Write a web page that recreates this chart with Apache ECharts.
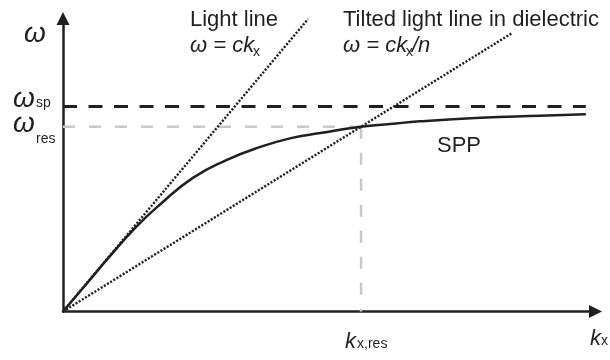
<!DOCTYPE html>
<html><head><meta charset="utf-8">
<script src="https://cdn.jsdelivr.net/npm/echarts@6/dist/echarts.min.js"></script>
<style>html,body{margin:0;padding:0;background:#fff}#c{width:610px;height:360px}</style>
</head><body><div id="c"></div>
<script>
// axis extents (arbitrary units)
const kAxisMax = 9.88;
const wAxisMax = 9.80;
// SPP dispersion curve
const sppK = [0, 0.41, 0.87, 1.34, 1.80, 2.41, 3.04, 3.65, 4.21, 4.77, 5.53, 6.07, 6.62, 7.74, 8.85, 9.70];
const sppW = [0, 0.87, 1.85, 2.80, 3.58, 4.47, 5.07, 5.50, 5.79, 5.97, 6.18, 6.27, 6.36, 6.48, 6.55, 6.60];
// light line and tilted light line (end points)
const lightK = [0, 4.545];
const lightW = [0, 9.78];
const tiltK = [0, 8.33];
const tiltW = [0, 9.31];
// characteristic values
const omegaSp = 6.86;
const omegaRes = 6.18;
const kRes = 5.53;
const kSpEnd = 9.70;

const INK = '#231f20';
const GRAY = '#c8c8c8';
const FONT = '"Liberation Sans", Arial, Helvetica, sans-serif';
const zip = (a, b) => a.map((v, i) => [v, b[i]]);

const chart = echarts.init(document.getElementById('c'), null, {renderer: 'canvas'});
chart.setOption({
  animation: false,
  backgroundColor: '#fff',
  grid: {left: 63, right: 14.5, top: 18.5, bottom: 48.5},
  xAxis: {
    type: 'value', min: 0, max: kAxisMax,
    axisLine: {show: true, lineStyle: {color: INK, width: 2.5}, symbol: ['none', 'triangle'], symbolSize: [13, 13]},
    axisTick: {show: false}, axisLabel: {show: false}, splitLine: {show: false}
  },
  yAxis: {
    type: 'value', min: 0, max: wAxisMax,
    axisLine: {show: true, lineStyle: {color: INK, width: 2.5}, symbol: ['none', 'triangle'], symbolSize: [13, 13]},
    axisTick: {show: false}, axisLabel: {show: false}, splitLine: {show: false}
  },
  series: [
    {type: 'line', data: [[0, omegaRes], [kRes, omegaRes]], symbol: 'none', silent: true,
     lineStyle: {color: GRAY, width: 2.5, type: [12, 14]}, z: 1},
    {type: 'line', data: [[kRes, omegaRes], [kRes, 0]], symbol: 'none', silent: true,
     lineStyle: {color: GRAY, width: 2.5, type: [12, 14]}, z: 1},
    {type: 'line', data: [[0, omegaSp], [kSpEnd, omegaSp]], symbol: 'none', silent: true,
     lineStyle: {color: INK, width: 3, type: [14, 11.5]}, z: 2},
    {type: 'line', data: zip(sppK, sppW), symbol: 'none', smooth: 0.5, silent: true,
     lineStyle: {color: INK, width: 2.5}, z: 3},
    {type: 'line', data: zip(lightK, lightW), symbol: 'none', silent: true,
     lineStyle: {color: INK, width: 2.4, type: [2.1, 1.6]}, z: 4},
    {type: 'line', data: zip(tiltK, tiltW), symbol: 'none', silent: true,
     lineStyle: {color: INK, width: 2.4, type: [2.1, 1.6]}, z: 4}
  ]
});

function txt(text, x, y, size, italic) {
  const font = (italic ? 'italic ' : '') + size + 'px ' + FONT;
  return {type: 'text', x: x, y: y, silent: true, z: 10,
    style: {text: text, fill: INK, font: font, fontSize: size, fontFamily: FONT, fontStyle: italic ? 'italic' : 'normal',
      align: 'left', verticalAlign: 'middle', textAlign: 'left', textVerticalAlign: 'middle'}};
}
const ySp = chart.convertToPixel({gridIndex: 0}, [0, omegaSp])[1];
const yRes = chart.convertToPixel({gridIndex: 0}, [0, omegaRes])[1];
const xRes = chart.convertToPixel({gridIndex: 0}, [kRes, 0])[0];
const yAx = chart.convertToPixel({gridIndex: 0}, [0, 0])[1];

chart.setOption({
  graphic: [
    txt('ω', 24, 34.5, 28, true),
    txt('ω', 13, ySp - 7.5, 28, true),
    txt('sp', 36, ySp - 3, 14, false),
    txt('ω', 13, yRes - 3, 28, true),
    txt('res', 36, yRes + 12, 14, false),
    txt('Light line', 190, 19.5, 22, false),
    txt('ω = ck', 190, 45.5, 22, true),
    txt('x', 253, 52, 14, false),
    txt('Tilted light line in dielectric', 343, 19.5, 22, false),
    txt('ω = ck', 343, 45.5, 22, true),
    txt('x', 406, 52, 14, false),
    txt('/n', 412, 45.5, 22, true),
    txt('SPP', 437, 145.5, 22, false),
    txt('k', xRes - 16, yAx + 30, 22, true),
    txt('x,res', xRes - 4, yAx + 32.5, 14, false),
    txt('k', 590, yAx + 27, 22, true),
    txt('x', 601, yAx + 29.5, 14, false)
  ]
});
</script>
</body></html>
